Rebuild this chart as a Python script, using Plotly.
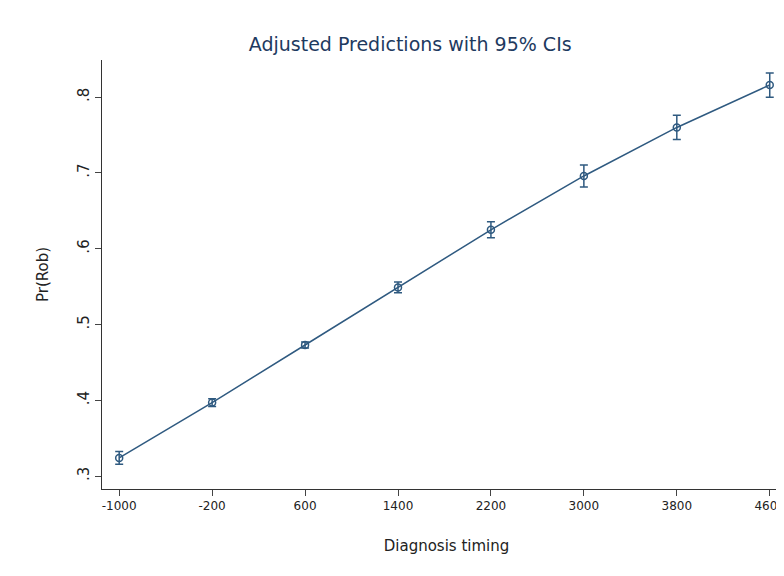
import plotly.graph_objects as go

x_vals = [-1000, -200, 600, 1400, 2200, 3000, 3800, 4600]
pred = [0.324, 0.397, 0.473, 0.549, 0.625, 0.696, 0.760, 0.816]
ci_half = [0.0085, 0.005, 0.004, 0.007, 0.0105, 0.0145, 0.016, 0.016]
x_ticks = [-1000, -200, 600, 1400, 2200, 3000, 3800, 4600]
x_labels = ["-1000", "-200", "600", "1400", "2200", "3000", "3800", "4600"]
y_ticks = [0.3, 0.4, 0.5, 0.6, 0.7, 0.8]
y_labels = [".3", ".4", ".5", ".6", ".7", ".8"]

col = "#2f5a80"
fig = go.Figure(go.Scatter(
    x=x_vals, y=pred, mode="lines+markers",
    line=dict(color=col, width=1.5),
    marker=dict(symbol="circle-open", size=7, color=col, line=dict(width=1.5)),
    error_y=dict(type="data", array=ci_half, color=col, thickness=1.5, width=4),
))
fig.update_layout(
    width=784, height=576, paper_bgcolor="white", plot_bgcolor="white",
    margin=dict(l=94, r=1, t=52, b=95),
    font=dict(family="DejaVu Sans", color="#222"),
    title=dict(text="Adjusted Predictions with 95% CIs", x=0.513, y=0.937, yanchor="middle",
               xanchor="center", font=dict(size=19, color="#1e3a5f")),
    showlegend=False,
)
fig.update_xaxes(range=[-1148, 4783], tickvals=x_ticks, ticktext=x_labels, ticks="outside", ticklen=6,
                 showline=True, linecolor="#333", showgrid=False, zeroline=False,
                 tickfont=dict(size=12),
                 title=dict(text="Diagnosis timing", font=dict(size=15), standoff=28))
fig.update_yaxes(range=[0.283, 0.849], tickvals=y_ticks, ticktext=y_labels, tickangle=-90,
                 ticks="outside", ticklen=6, showline=True, linecolor="#333", showgrid=False,
                 zeroline=False, tickfont=dict(size=15),
                 title=dict(text="Pr(Rob)", font=dict(size=15), standoff=22))
fig.write_html("out.html")
